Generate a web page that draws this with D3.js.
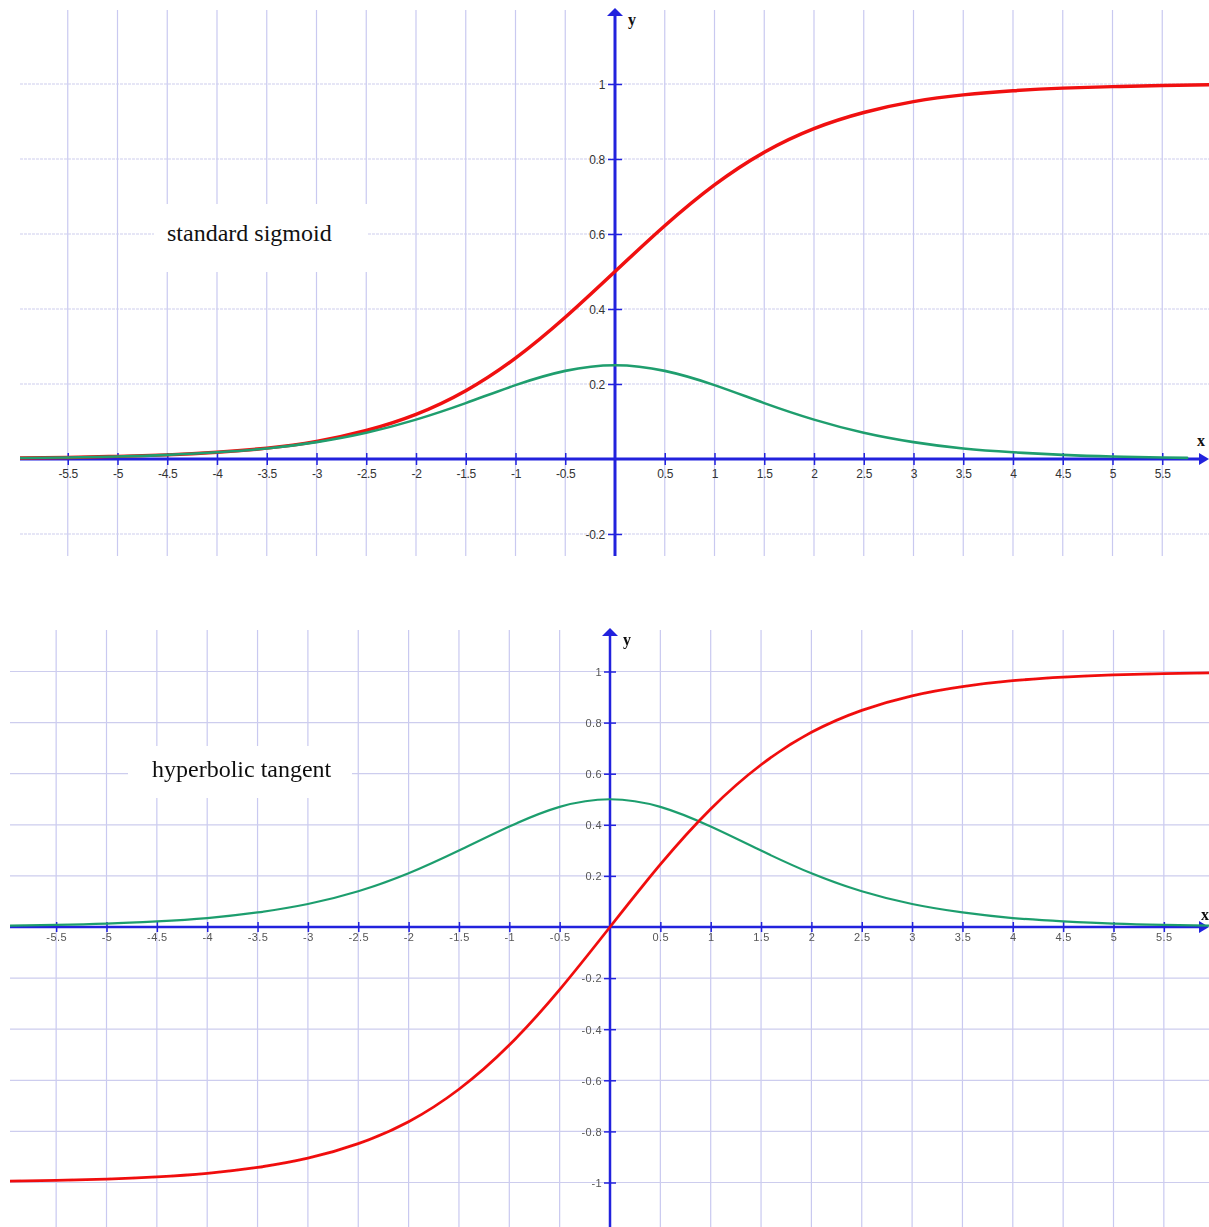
<!DOCTYPE html>
<html>
<head>
<meta charset="utf-8">
<script src="https://cdn.jsdelivr.net/npm/d3@7"></script>
<style>
  html, body { margin: 0; padding: 0; background: #ffffff; }
  svg { display: block; }
</style>
</head>
<body>
<script>
// ---- data -------------------------------------------------------------
// sample positions along x
const sampleX = [-6, -5.5, -5, -4.5, -4, -3.5, -3, -2.5, -2, -1.5, -1, -0.5, 0,
                 0.5, 1, 1.5, 2, 2.5, 3, 3.5, 4, 4.5, 5, 5.5, 6];

// standard sigmoid and its slope
const sigmoidY = [0.0025, 0.004, 0.007, 0.011, 0.018, 0.029, 0.047, 0.076, 0.119, 0.182, 0.269, 0.378, 0.5,
                  0.622, 0.731, 0.818, 0.881, 0.924, 0.953, 0.971, 0.982, 0.989, 0.993, 0.996, 0.998];
const sigmoidSlopeX = [-6, -5.5, -5, -4.5, -4, -3.5, -3, -2.5, -2, -1.5, -1, -0.5, 0,
                       0.5, 1, 1.5, 2, 2.5, 3, 3.5, 4, 4.5, 5, 5.5, 5.75];
const sigmoidSlopeY = [0.0025, 0.004, 0.0066, 0.011, 0.018, 0.028, 0.045, 0.070, 0.105, 0.149, 0.197, 0.235, 0.25,
                       0.235, 0.197, 0.149, 0.105, 0.070, 0.045, 0.028, 0.018, 0.011, 0.0066, 0.004, 0.003];

// hyperbolic tangent curve and its slope
const tanhY = [-0.995, -0.992, -0.987, -0.978, -0.964, -0.941, -0.905, -0.848, -0.762, -0.635, -0.462, -0.245, 0,
               0.245, 0.462, 0.635, 0.762, 0.848, 0.905, 0.941, 0.964, 0.978, 0.987, 0.992, 0.995];
const tanhSlopeY = [0.005, 0.008, 0.013, 0.022, 0.035, 0.057, 0.090, 0.140, 0.210, 0.299, 0.393, 0.470, 0.5,
                    0.470, 0.393, 0.299, 0.210, 0.140, 0.090, 0.057, 0.035, 0.022, 0.013, 0.008, 0.005];

// ticks
const xTickValues = [-5.5, -5, -4.5, -4, -3.5, -3, -2.5, -2, -1.5, -1, -0.5,
                     0.5, 1, 1.5, 2, 2.5, 3, 3.5, 4, 4.5, 5, 5.5];
const xTickLabels = ["-5.5", "-5", "-4.5", "-4", "-3.5", "-3", "-2.5", "-2", "-1.5", "-1", "-0.5",
                     "0.5", "1", "1.5", "2", "2.5", "3", "3.5", "4", "4.5", "5", "5.5"];
const yTickTop = [1, 0.8, 0.6, 0.4, 0.2, -0.2];
const yTickTopLabels = ["1", "0.8", "0.6", "0.4", "0.2", "-0.2"];
const yTickBottom = [1, 0.8, 0.6, 0.4, 0.2, -0.2, -0.4, -0.6, -0.8, -1];
const yTickBottomLabels = ["1", "0.8", "0.6", "0.4", "0.2", "-0.2", "-0.4", "-0.6", "-0.8", "-1"];

// ---- drawing ----------------------------------------------------------
const W = 1209, H = 1227;
const svg = d3.select("body").append("svg")
  .attr("width", W).attr("height", H)
  .style("font-family", "'Liberation Sans', Arial, sans-serif");

const defs = svg.append("defs");
defs.append("filter").attr("id", "soft")
  .append("feGaussianBlur").attr("stdDeviation", 0.35);

const AXIS = "#2222dd";
const RED = "#f01010";
const GREEN = "#1f9e6e";

function drawPanel(p) {
  const g = svg.append("g");
  if (p.soft) g.attr("filter", "url(#soft)");

  const x = d3.scaleLinear().domain([0, 1]).range([p.x0, p.x0 + p.ux]);
  const y = d3.scaleLinear().domain([0, 1]).range([p.y0, p.y0 - p.uy]);

  const clipId = "clip" + p.id;
  defs.append("clipPath").attr("id", clipId)
    .append("rect")
    .attr("x", p.left).attr("y", p.top)
    .attr("width", p.right - p.left).attr("height", p.bottom - p.top);

  // grid
  const grid = g.append("g");
  grid.selectAll("line.v").data(xTickValues).join("line")
    .attr("x1", d => x(d)).attr("x2", d => x(d))
    .attr("y1", p.top).attr("y2", p.bottom)
    .attr("stroke", "#c9c9f0").attr("stroke-width", 1.2);
  grid.selectAll("line.h").data(p.yTicks).join("line")
    .attr("x1", p.left).attr("x2", p.right)
    .attr("y1", d => y(d)).attr("y2", d => y(d))
    .attr("stroke", "#cdcdee").attr("stroke-width", 1.2)
    .attr("stroke-dasharray", p.hDash);

  // caption on a white card
  g.append("rect")
    .attr("x", p.card[0]).attr("y", p.card[1])
    .attr("width", p.card[2]).attr("height", p.card[3])
    .attr("fill", "#ffffff");
  g.append("text")
    .attr("x", p.captionPos[0]).attr("y", p.captionPos[1])
    .attr("font-family", "'Liberation Serif', 'Times New Roman', serif")
    .attr("font-size", 24).attr("fill", "#111")
    .text(p.caption);

  // x axis ticks and labels
  const xAxis = g.append("g")
    .attr("transform", `translate(0,${y(0)})`)
    .call(d3.axisBottom(x).tickValues(xTickValues)
      .tickSize(p.tick).tickFormat((d, i) => xTickLabels[i]));
  xAxis.select(".domain").remove();
  xAxis.selectAll(".tick line").attr("y1", -p.tick).attr("stroke", AXIS).attr("stroke-width", 1.5);
  xAxis.selectAll(".tick text")
    .attr("y", p.xLabelY).attr("dy", 0)
    .attr("font-family", "'Liberation Sans', Arial, sans-serif")
    .attr("font-size", p.labelSize).attr("fill", p.labelColor)
    .attr("letter-spacing", p.letter);

  // y axis ticks and labels
  const yAxis = g.append("g")
    .attr("transform", `translate(${x(0)},0)`)
    .call(d3.axisLeft(y).tickValues(p.yTicks)
      .tickSize(p.tick + 1).tickFormat((d, i) => p.yLabels[i]));
  yAxis.select(".domain").remove();
  yAxis.selectAll(".tick line").attr("x1", p.tick + 1).attr("stroke", AXIS).attr("stroke-width", 1.5);
  yAxis.selectAll(".tick text")
    .attr("x", p.yLabelX).attr("dy", "0.35em")
    .attr("font-family", "'Liberation Sans', Arial, sans-serif")
    .attr("font-size", p.labelSize).attr("fill", p.labelColor)
    .attr("letter-spacing", p.letter);

  // axis lines with arrow heads
  const ax = g.append("g");
  ax.append("line")
    .attr("x1", p.left).attr("x2", p.right - 6)
    .attr("y1", y(0)).attr("y2", y(0))
    .attr("stroke", AXIS).attr("stroke-width", p.axisW);
  ax.append("path")
    .attr("d", `M${p.right},${y(0)} L${p.right - 10},${y(0) - 6} L${p.right - 10},${y(0) + 6} Z`)
    .attr("fill", AXIS);
  ax.append("line")
    .attr("x1", x(0)).attr("x2", x(0))
    .attr("y1", p.bottom).attr("y2", p.top + 6)
    .attr("stroke", AXIS).attr("stroke-width", p.axisW);
  ax.append("path")
    .attr("d", `M${x(0)},${p.top - 2} L${x(0) - 8},${p.top + 6} L${x(0) + 8},${p.top + 6} Z`)
    .attr("fill", AXIS);

  // axis names
  g.append("text").attr("x", p.xName[0]).attr("y", p.xName[1])
    .attr("font-family", "'Liberation Serif', serif").attr("font-weight", "bold")
    .attr("font-size", 16).attr("fill", "#111").text("x");
  g.append("text").attr("x", x(0) + 13).attr("y", p.top + 15)
    .attr("font-family", "'Liberation Serif', serif").attr("font-weight", "bold")
    .attr("font-size", 16).attr("fill", "#111").text("y");

  // curves
  const line = d3.line().x(d => x(d[0])).y(d => y(d[1])).curve(d3.curveNatural);
  const curves = g.append("g").attr("clip-path", `url(#${clipId})`);
  p.series.forEach(s => {
    curves.append("path")
      .datum(d3.zip(s.x, s.y))
      .attr("d", line)
      .attr("fill", "none")
      .attr("stroke", s.color)
      .attr("stroke-width", s.width)
      .attr("stroke-linejoin", "round")
      .attr("stroke-linecap", "round");
  });
}

// upper panel: standard sigmoid
drawPanel({
  id: "top", soft: false,
  x0: 615, ux: 99.5, y0: 459, uy: 375,
  left: 20, right: W, top: 10, bottom: 556,
  yTicks: yTickTop, yLabels: yTickTopLabels,
  hDash: "3,1", tick: 6, axisW: 3,
  xLabelY: 19, yLabelX: -10, labelSize: 12, labelColor: "#333", letter: -0.3,
  card: [154, 204, 214, 68],
  caption: "standard sigmoid", captionPos: [167, 241],
  xName: [1197, 446],
  series: [
    { x: sampleX, y: sigmoidY, color: RED, width: 3.5 },
    { x: sigmoidSlopeX, y: sigmoidSlopeY, color: GREEN, width: 2.6 }
  ]
});

// lower panel: hyperbolic tangent
drawPanel({
  id: "bottom", soft: true,
  x0: 610, ux: 100.7, y0: 927, uy: 255.5,
  left: 10, right: W, top: 630, bottom: H,
  yTicks: yTickBottom, yLabels: yTickBottomLabels,
  hDash: null, tick: 5, axisW: 2.5,
  xLabelY: 14, yLabelX: -8, labelSize: 11, labelColor: "#555", letter: 0.4,
  card: [128, 746, 224, 52],
  caption: "hyperbolic tangent", captionPos: [152, 777],
  xName: [1201, 920],
  series: [
    { x: sampleX, y: tanhSlopeY, color: GREEN, width: 2.2 },
    { x: sampleX, y: tanhY, color: RED, width: 2.8 }
  ]
});
</script>
</body>
</html>
